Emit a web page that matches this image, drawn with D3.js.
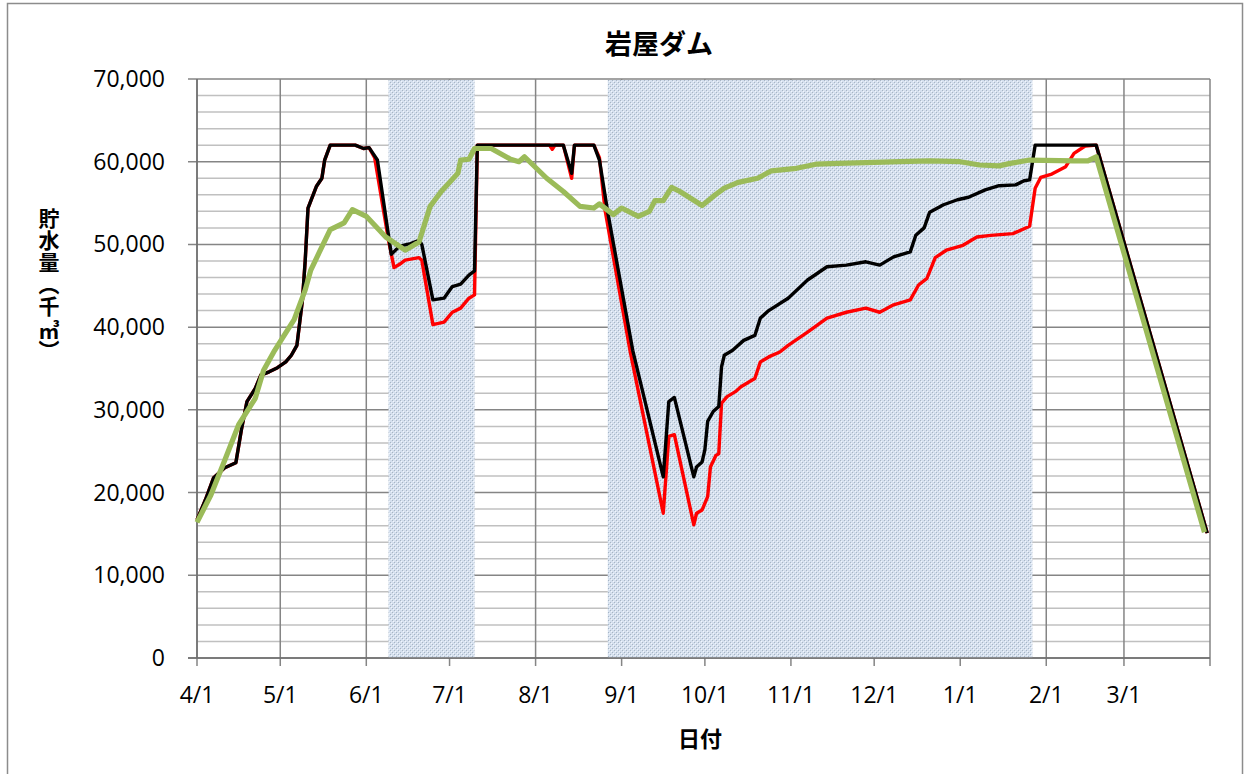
<!DOCTYPE html>
<html>
<head>
<meta charset="utf-8">
<script src="https://cdn.jsdelivr.net/npm/d3@7"></script>
<style>
  body { margin: 0; background: #fff; }
</style>
</head>
<body>
<svg width="1245" height="774"></svg>
<script>
// values (thousand m3), dates are M/D in a fiscal year 4/1 - 3/31
var seriesRed = [
  ["4/1",16700],["4/4",19100],["4/7",21800],["4/11",23000],["4/15",23600],["4/17",27600],
  ["4/19",31000],["4/22",32600],["4/24",34200],["4/27",34600],["4/30",35100],["5/3",35800],
  ["5/5",36600],["5/7",37800],["5/9",43300],["5/10",48100],["5/11",54400],["5/14",57000],
  ["5/16",58000],["5/17",60200],["5/19",62000],["5/28",62000],["5/31",61600],["6/2",61700],
  ["6/4",60500],["6/9",50500],["6/11",47200],["6/13",47600],["6/15",48100],["6/20",48400],
  ["6/21",48100],["6/25",40300],["6/29",40600],["7/2",41800],["7/5",42300],["7/8",43500],
  ["7/10",43900],["7/11",62000],["8/6",62000],["8/7",61500],["8/8",62000],["8/11",62000],
  ["8/14",58000],["8/15",62000],["8/22",62000],["8/24",60500],["8/26",54200],["9/4",37200],
  ["9/16",17500],["9/18",26800],["9/20",27000],["9/27",16100],["9/28",17500],["9/30",17900],
  ["10/2",19500],["10/3",23100],["10/5",24500],["10/6",24700],["10/7",30800],["10/9",31600],
  ["10/12",32200],["10/14",32800],["10/17",33400],["10/19",33800],["10/21",35800],["10/24",36400],
  ["10/28",37000],["10/31",37800],["11/7",39400],["11/14",41100],["11/21",41800],["11/28",42300],
  ["12/3",41800],["12/8",42700],["12/14",43300],["12/17",45100],["12/20",45900],["12/23",48400],
  ["12/27",49300],["1/2",49900],["1/7",50900],["1/12",51100],["1/20",51300],["1/26",52200],
  ["1/28",56800],["1/30",58100],["2/3",58500],["2/8",59400],["2/11",61000],["2/15",61900],
  ["2/19",62000],["3/31",15100]
];

var seriesBlack = [
  ["4/1",16700],["4/4",19100],["4/7",21800],["4/11",23000],["4/15",23600],["4/17",27600],
  ["4/19",31000],["4/22",32600],["4/24",34200],["4/27",34600],["4/30",35100],["5/3",35800],
  ["5/5",36600],["5/7",37800],["5/9",43300],["5/10",48100],["5/11",54400],["5/14",57000],
  ["5/16",58000],["5/17",60200],["5/19",62000],["5/28",62000],["5/31",61600],["6/2",61700],
  ["6/5",60200],["6/10",48800],["6/13",49800],["6/17",50100],["6/20",50500],["6/21",50000],
  ["6/25",43300],["6/29",43500],["7/2",44900],["7/5",45200],["7/8",46300],["7/10",46800],
  ["7/11",62000],["8/11",62000],["8/14",58600],["8/15",62000],["8/22",62000],["8/24",60200],
  ["8/27",53900],["9/5",37200],["9/16",21900],["9/18",31000],["9/20",31500],["9/27",21900],
  ["9/28",23100],["9/30",23700],["10/1",25200],["10/2",28600],["10/4",29800],["10/6",30400],
  ["10/7",35200],["10/8",36600],["10/11",37200],["10/15",38400],["10/19",39000],["10/21",41100],
  ["10/24",42000],["10/31",43500],["11/7",45700],["11/14",47300],["11/21",47500],["11/28",47900],
  ["12/3",47500],["12/8",48500],["12/14",49100],["12/16",51100],["12/19",52000],["12/21",53900],
  ["12/26",54800],["12/31",55400],["1/4",55700],["1/10",56600],["1/15",57100],["1/21",57200],
  ["1/24",57700],["1/26",57800],["1/28",62000],["2/19",62000],["3/31",15100]
];

var seriesGreen = [
  ["4/1",16400],["4/6",19700],["4/11",23900],["4/16",28200],["4/22",31400],["4/25",34800],
  ["4/29",37200],["5/2",38800],["5/6",40900],["5/10",44500],["5/12",46900],["5/15",49000],
  ["5/19",51800],["5/24",52600],["5/27",54200],["6/1",53400],["6/8",50900],["6/15",49300],
  ["6/20",50300],["6/24",54600],["6/28",56400],["7/4",58600],["7/5",60200],["7/8",60300],
  ["7/10",61600],["7/16",61600],["7/23",60300],["7/26",60000],["7/28",60600],["8/5",58000],
  ["8/11",56400],["8/17",54600],["8/22",54400],["8/24",54900],["8/29",53600],["9/1",54400],
  ["9/7",53400],["9/11",54000],["9/13",55300],["9/16",55300],["9/19",56900],["9/22",56400],
  ["9/30",54700],["10/4",55800],["10/8",56800],["10/13",57500],["10/20",58000],["10/25",58900],
  ["11/3",59200],["11/10",59700],["11/18",59800],["11/28",59900],["12/10",60000],["12/21",60100],
  ["1/1",60000],["1/8",59600],["1/15",59500],["1/19",59800],["1/26",60200],["2/11",60100],
  ["2/16",60100],["2/19",60600],["3/30",15200]
];

// shaded periods
var bands = [["6/9","7/10"],["8/27","1/27"]];

var monthTicks = ["4/1","5/1","6/1","7/1","8/1","9/1","10/1","11/1","12/1","1/1","2/1","3/1"];
var yTicks = [0,10000,20000,30000,40000,50000,60000,70000];

var svg = d3.select("svg"),
    pLeft = 197, pRight = 1210, pTop = 79, pBottom = 658;

function md(s) {
  var p = s.split("/"), m = +p[0], d = +p[1];
  return new Date(m >= 4 ? 2013 : 2014, m - 1, d);
}

var x = d3.scaleTime()
    .domain([new Date(2013, 3, 1), new Date(2014, 3, 1)])
    .range([pLeft, pRight]);
var y = d3.scaleLinear().domain([0, 70000]).range([pBottom, pTop]);

// outer frame
svg.append("rect")
    .attr("x", 7.5).attr("y", 3.5).attr("width", 1235).attr("height", 800)
    .attr("fill", "#fff").attr("stroke", "#8c8c8c").attr("stroke-width", 1.5);

var defs = svg.append("defs");
var pat = defs.append("pattern")
    .attr("id", "dots").attr("patternUnits", "userSpaceOnUse")
    .attr("width", 4).attr("height", 4);
pat.append("rect").attr("width", 4).attr("height", 4).attr("fill", "#d5e0ee");
pat.append("rect").attr("x", 0).attr("y", 0).attr("width", 1).attr("height", 1).attr("fill", "#a7b5c4");
pat.append("rect").attr("x", 2).attr("y", 2).attr("width", 1).attr("height", 1).attr("fill", "#a7b5c4");
pat.append("rect").attr("x", 1).attr("y", 1).attr("width", 1).attr("height", 1).attr("fill", "#f2f6fb");
pat.append("rect").attr("x", 3).attr("y", 3).attr("width", 1).attr("height", 1).attr("fill", "#f2f6fb");

// minor horizontal grid
var minor = d3.range(2000, 70000, 2000).filter(function(v) { return v % 10000 !== 0; });
svg.append("g").selectAll("line").data(minor).join("line")
    .attr("x1", pLeft).attr("x2", pRight)
    .attr("y1", d => y(d)).attr("y2", d => y(d))
    .attr("stroke", "#c0c0c0").attr("stroke-width", 1.5);

// major horizontal grid + y ticks
svg.append("g").selectAll("line").data(yTicks).join("line")
    .attr("x1", pLeft - 9).attr("x2", pRight)
    .attr("y1", d => y(d)).attr("y2", d => y(d))
    .attr("stroke", "#858585").attr("stroke-width", 1.5);

// month grid + x ticks
var monthDates = monthTicks.map(md).concat([new Date(2014, 3, 1)]);
svg.append("g").selectAll("line").data(monthDates).join("line")
    .attr("x1", d => x(d)).attr("x2", d => x(d))
    .attr("y1", pTop).attr("y2", pBottom + 8)
    .attr("stroke", "#858585").attr("stroke-width", 1.5);

// shaded periods
svg.append("g").selectAll("rect").data(bands).join("rect")
    .attr("x", d => x(md(d[0])))
    .attr("width", d => x(md(d[1])) - x(md(d[0])))
    .attr("y", pTop + 1).attr("height", pBottom - pTop - 1)
    .attr("fill", "url(#dots)");

// axis lines
svg.append("line").attr("x1", pLeft).attr("x2", pLeft).attr("y1", pTop).attr("y2", pBottom)
    .attr("stroke", "#6e6e6e").attr("stroke-width", 1.5);
svg.append("line").attr("x1", pLeft - 9).attr("x2", pRight).attr("y1", pBottom).attr("y2", pBottom)
    .attr("stroke", "#6e6e6e").attr("stroke-width", 1.5);

var line = d3.line()
    .x(d => x(md(d[0])))
    .y(d => y(d[1]));

[[seriesRed, "#ff0000", 3.4], [seriesBlack, "#000000", 3.4], [seriesGreen, "#9bbb59", 5.2]]
  .forEach(function(s) {
    svg.append("path")
        .datum(s[0])
        .attr("d", line)
        .attr("fill", "none")
        .attr("stroke", s[1])
        .attr("stroke-width", s[2])
        .attr("stroke-linejoin", "round");
  });

// tick labels
var fmt = d3.format(",");
svg.append("g").selectAll("text").data(yTicks).join("text")
    .attr("x", 165).attr("y", d => y(d) + 8)
    .attr("text-anchor", "end")
    .style("font-family", "'Open Sans', sans-serif")
    .style("font-size", "23px")
    .attr("fill", "#000")
    .text(d => fmt(d));

svg.append("g").selectAll("text").data(monthTicks).join("text")
    .attr("x", d => x(md(d))).attr("y", 703)
    .attr("text-anchor", "middle")
    .style("font-family", "'Open Sans', sans-serif")
    .style("font-size", "23px")
    .attr("fill", "#000")
    .text(d => d);

// titles
svg.append("text")
    .attr("x", 659).attr("y", 54)
    .attr("text-anchor", "middle")
    .style("font-family", "'Noto Sans CJK JP', sans-serif")
    .style("font-size", "27px").style("font-weight", "bold")
    .text("岩屋ダム");

svg.append("text")
    .attr("x", 700).attr("y", 747)
    .attr("text-anchor", "middle")
    .style("font-family", "'Noto Sans CJK JP', sans-serif")
    .style("font-size", "22px").style("font-weight", "bold")
    .text("日付");

// vertical y axis title
svg.append("text")
    .attr("x", 49).attr("y", 208)
    .style("writing-mode", "vertical-rl")
    .style("letter-spacing", "1px")
    .style("font-family", "'Noto Sans CJK JP', sans-serif")
    .style("font-size", "21px").style("font-weight", "bold")
    .text("貯水量（千㎥）");
</script>
</body>
</html>
